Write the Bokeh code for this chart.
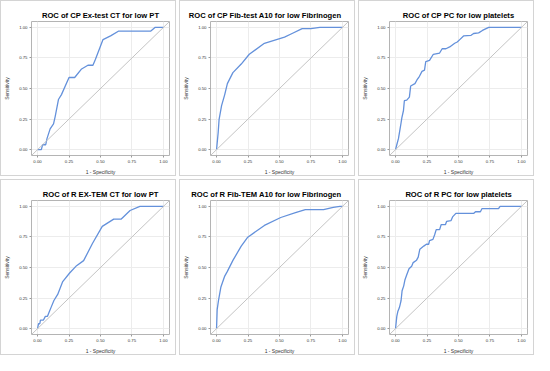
from bokeh.plotting import figure
from bokeh.layouts import gridplot
from bokeh.models import Range1d, Slope, NumeralTickFormatter, FixedTicker
from bokeh.embed import file_html
from bokeh.resources import INLINE

titles = [
    "ROC of CP Ex-test CT for low PT",
    "ROC of CP Fib-test A10 for low Fibrinogen",
    "ROC of CP PC for low platelets",
    "ROC of R EX-TEM CT for low PT",
    "ROC of R Fib-TEM A10 for low Fibrinogen",
    "ROC of R PC for low platelets",
]

cp_ex_fpr = [0, 0.03, 0.04, 0.065, 0.075, 0.10, 0.127, 0.14, 0.166, 0.19, 0.25, 0.295, 0.35, 0.40, 0.44, 0.46, 0.52, 0.58, 0.645, 0.90, 0.935, 1.0]
cp_ex_tpr = [0, 0, 0.04, 0.04, 0.09, 0.17, 0.21, 0.27, 0.41, 0.45, 0.59, 0.59, 0.66, 0.69, 0.69, 0.74, 0.90, 0.93, 0.97, 0.97, 1.0, 1.0]

cp_fib_fpr = [0, 0.013, 0.02, 0.04, 0.065, 0.086, 0.13, 0.196, 0.26, 0.38, 0.54, 0.60, 0.68, 0.75, 0.82, 1.0]
cp_fib_tpr = [0, 0.14, 0.245, 0.36, 0.45, 0.54, 0.63, 0.70, 0.78, 0.87, 0.92, 0.95, 0.99, 0.99, 1.0, 1.0]

cp_pc_fpr = [0, 0.01, 0.023, 0.036, 0.044, 0.05, 0.063, 0.07, 0.089, 0.11, 0.12, 0.154, 0.17, 0.19, 0.21, 0.23, 0.24, 0.27, 0.30, 0.35, 0.37, 0.40, 0.43, 0.47, 0.49, 0.51, 0.54, 0.60, 0.62, 0.66, 0.69, 0.74, 1.0]
cp_pc_tpr = [0, 0.04, 0.09, 0.17, 0.22, 0.26, 0.32, 0.40, 0.405, 0.43, 0.52, 0.54, 0.57, 0.60, 0.64, 0.65, 0.72, 0.73, 0.78, 0.79, 0.825, 0.825, 0.84, 0.87, 0.88, 0.90, 0.93, 0.935, 0.95, 0.955, 0.975, 1.0, 1.0]

r_ex_fpr = [0, 0.008, 0.018, 0.023, 0.047, 0.062, 0.078, 0.094, 0.11, 0.13, 0.16, 0.177, 0.20, 0.255, 0.31, 0.366, 0.436, 0.514, 0.605, 0.665, 0.735, 0.813, 1.0]
r_ex_tpr = [0, 0.04, 0.04, 0.07, 0.07, 0.10, 0.10, 0.14, 0.18, 0.23, 0.28, 0.325, 0.385, 0.455, 0.515, 0.556, 0.696, 0.836, 0.896, 0.896, 0.966, 1.0, 1.0]

r_fib_fpr = [0, 0.005, 0.016, 0.034, 0.065, 0.086, 0.13, 0.196, 0.248, 0.38, 0.51, 0.627, 0.705, 0.85, 0.927, 0.98, 1.0]
r_fib_tpr = [0, 0.156, 0.234, 0.338, 0.43, 0.468, 0.558, 0.675, 0.748, 0.844, 0.909, 0.948, 0.974, 0.974, 0.992, 1.0, 1.0]

r_pc_fpr = [0, 0.005, 0.01, 0.018, 0.03, 0.036, 0.044, 0.052, 0.065, 0.075, 0.089, 0.107, 0.128, 0.14, 0.167, 0.18, 0.193, 0.224, 0.245, 0.263, 0.27, 0.297, 0.31, 0.323, 0.35, 0.362, 0.396, 0.406, 0.44, 0.453, 0.479, 0.622, 0.635, 0.674, 0.687, 0.818, 0.83, 1.0]
r_pc_tpr = [0, 0.05, 0.10, 0.14, 0.17, 0.195, 0.23, 0.31, 0.35, 0.40, 0.44, 0.49, 0.51, 0.54, 0.56, 0.585, 0.65, 0.675, 0.69, 0.69, 0.72, 0.73, 0.766, 0.81, 0.81, 0.85, 0.85, 0.878, 0.883, 0.914, 0.943, 0.943, 0.956, 0.956, 0.982, 0.982, 1.0, 1.0]

series = [
    (cp_ex_fpr, cp_ex_tpr),
    (cp_fib_fpr, cp_fib_tpr),
    (cp_pc_fpr, cp_pc_tpr),
    (r_ex_fpr, r_ex_tpr),
    (r_fib_fpr, r_fib_tpr),
    (r_pc_fpr, r_pc_tpr),
]

tick_vals = [0, 0.25, 0.5, 0.75, 1.0]

# Liberation Sans Bold advance widths (per 1000 em) for placing titles
BOLD_W = {" ": 278, "-": 333, "0": 556, "1": 556, "A": 722, "C": 722, "E": 667, "F": 611,
          "M": 833, "O": 778, "P": 667, "R": 722, "T": 611, "X": 667, "a": 556, "b": 611,
          "c": 556, "e": 556, "f": 333, "g": 611, "i": 278, "l": 278, "n": 611, "o": 611,
          "p": 611, "r": 389, "s": 556, "t": 333, "w": 778, "x": 556}

def text_width(s, size):
    return sum(BOLD_W.get(ch, 600) for ch in s) / 1000.0 * size

W, H = 176, 176
ML, MR = 30, 8
TSIZE = 7.6
figs = []
for title, (xs, ys) in zip(titles, series):
    p = figure(width=W, height=H, output_backend="svg", toolbar_location=None,
               x_range=Range1d(-0.048, 1.048), y_range=Range1d(-0.048, 1.048),
               min_border_left=ML, min_border_right=MR, min_border_top=20, min_border_bottom=0,
               background_fill_color="white", border_fill_color="white")
    p.styles = {"border": "1px solid #d4d4d4", "box-sizing": "border-box"}
    p.title.text = title
    p.title.align = "right"
    tw = text_width(title, TSIZE)
    frame_cx = (ML + (W - MR)) / 2
    cx = min(frame_cx, W - 15 - tw / 2)
    p.title.offset = (W - MR) - (cx + tw / 2)
    p.title.text_font = "Liberation Sans"
    p.title.text_font_style = "bold"
    p.title.text_font_size = f"{TSIZE}px"
    p.title.text_color = "#000000"
    p.title.standoff = 3
    p.outline_line_color = "#b4b4b4"
    p.outline_line_width = 1
    for ax in (p.xaxis, p.yaxis):
        ax.ticker = FixedTicker(ticks=tick_vals)
        ax.formatter = NumeralTickFormatter(format="0.00")
        ax.axis_line_color = None
        ax.major_tick_line_color = "#9a9a9a"
        ax.major_tick_in = 0
        ax.major_tick_out = 2
        ax.minor_tick_line_color = None
        ax.major_label_text_font = "Liberation Sans"
        ax.major_label_text_font_size = "4.3px"
        ax.major_label_text_color = "#333333"
        ax.major_label_standoff = 2
        ax.axis_label_text_font = "Liberation Sans"
        ax.axis_label_text_font_size = "5px"
        ax.axis_label_text_font_style = "normal"
        ax.axis_label_text_color = "#333333"
        ax.axis_label_standoff = 3
    p.xaxis.axis_label = "1 - Specificity"
    p.yaxis.axis_label = "Sensitivity"
    p.yaxis.major_label_orientation = "horizontal"
    p.yaxis.axis_label_standoff = 6
    p.xgrid.ticker = FixedTicker(ticks=tick_vals)
    p.ygrid.ticker = FixedTicker(ticks=tick_vals)
    p.grid.grid_line_color = "#ececec"
    p.grid.grid_line_width = 1
    p.add_layout(Slope(gradient=1, y_intercept=0, line_color="#c4c4c4", line_width=1))
    p.line(xs, ys, line_color="#6491db", line_width=1.3)
    figs.append(p)

grid = gridplot([figs[0:3], figs[3:6]], toolbar_location=None)
grid.spacing = 3

open("out.html", "w").write(file_html(grid, INLINE))
